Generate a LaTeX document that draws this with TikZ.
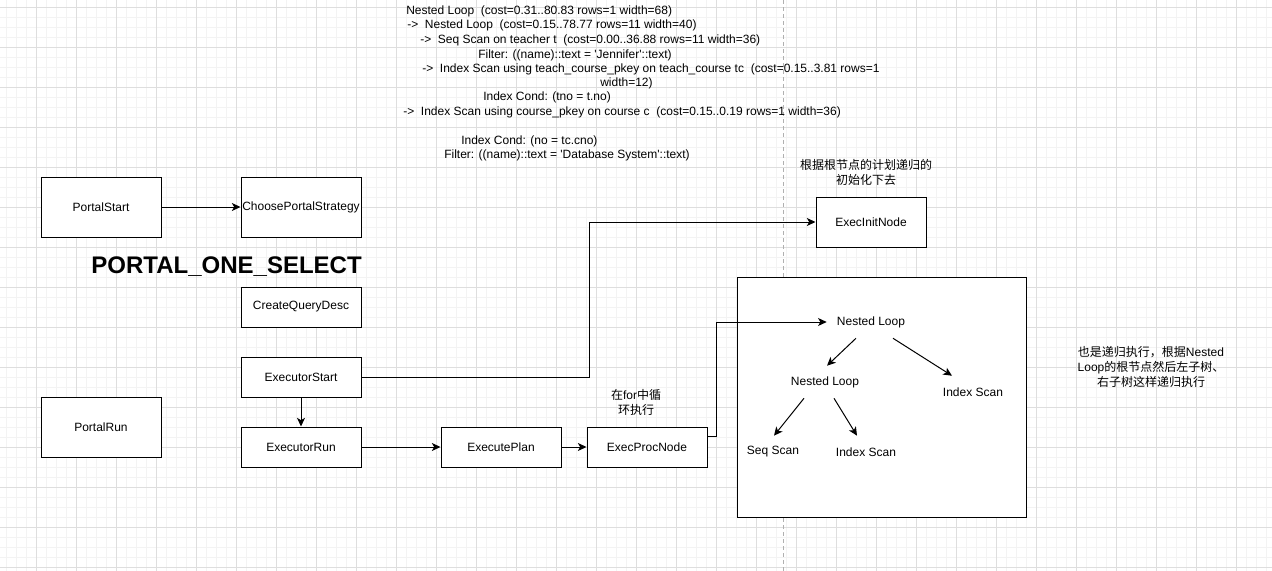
\documentclass[tikz,border=0pt]{standalone}
\usepackage{fontspec}
\setmainfont{Liberation Sans}
\newfontfamily\cjk{Noto Sans CJK SC}
\usetikzlibrary{arrows.meta,calc}
\definecolor{gridmajor}{HTML}{DEDEDE}
\definecolor{gridminor}{HTML}{F3F3F3}
\definecolor{guide}{HTML}{B0B0B0}

\begin{document}
\begin{tikzpicture}[x=0.75pt,y=-0.75pt,
  every node/.style={font=\fontsize{9pt}{10.8pt}\selectfont},
  box/.style={draw,fill=white,line width=0.75pt,minimum width=90pt,minimum height=30pt,inner sep=0pt},
  tallbox/.style={box,minimum height=45pt},
  note/.style={inner sep=0pt,align=center},
  cjknote/.style={note,font=\cjk\fontsize{9pt}{11.25pt}\selectfont},
  planline/.style={anchor=base west,inner sep=0pt},
  treenode/.style={inner sep=0pt,minimum height=24pt},
  arr/.style={line width=0.75pt,-{Stealth[length=6.5pt,width=6pt,inset=1.75pt]}},
  gridminorline/.style={gridminor,line width=0.75pt},
  gridmajorline/.style={gridmajor,line width=0.75pt}]

% canvas and background grid
\useasboundingbox (0,0) rectangle (1272,571);
\fill[white] (0,0) rectangle (1272,571);
\foreach \x in {6,16,...,1270} \draw[gridminorline] (\x,0) -- (\x,571);
\foreach \y in {7,17,...,571} \draw[gridminorline] (0,\y) -- (1272,\y);
\foreach \x in {36,76,...,1270} \draw[gridmajorline] (\x,0) -- (\x,571);
\foreach \y in {7,47,...,571} \draw[gridmajorline] (0,\y) -- (1272,\y);
\draw[guide,line width=0.75pt,dash pattern=on 3pt off 2.25pt] (783,0) -- (783,571);

% query plan text
\node[planline] (p1) at (406,14) {Nested Loop\ \ (cost=0.31..80.83 rows=1 width=68)};
\node[planline] (p2) at (407,28) {->\ \ Nested Loop\ \ (cost=0.15..78.77 rows=11 width=40)};
\node[planline] (p3) at (420,43) {->\ \ Seq Scan on teacher t\ \ (cost=0.00..36.88 rows=11 width=36)};
\node[planline] (p4) at (478,58) {Filter: ((name)::text = \textquotesingle Jennifer\textquotesingle::text)};
\node[planline] (p5) at (422,72) {->\ \ Index Scan using teach\_course\_pkey on teach\_course tc\ \ (cost=0.15..3.81 rows=1};
\node[planline] (p6) at (600,86) {width=12)};
\node[planline] (p7) at (483,100) {Index Cond: (tno = t.no)};
\node[planline] (p8) at (403,115) {->\ \ Index Scan using course\_pkey on course c\ \ (cost=0.15..0.19 rows=1 width=36)};
\node[planline] (p9) at (461,144) {Index Cond: (no = tc.cno)};
\node[planline] (p10) at (444,158) {Filter: ((name)::text = \textquotesingle Database System\textquotesingle::text)};

% portal / executor call chain
\node[tallbox] (ps) at (101,207) {PortalStart};
\node[tallbox] (cps) at (301,207) {ChoosePortalStrategy};
\node[anchor=east,inner sep=0pt,font=\bfseries\fontsize{18pt}{21pt}\selectfont] (pos) at (362,267) {PORTAL\_ONE\_SELECT};
\node[box] (cqd) at (301,307) {CreateQueryDesc};
\node[box] (es) at (301,377) {ExecutorStart};
\node[box] (er) at (301,447) {ExecutorRun};
\node[tallbox] (pr) at (101,427) {PortalRun};
\node[box] (ep) at (501,447) {ExecutePlan};
\node[box] (epn) at (647,447) {ExecProcNode};
\node[draw,fill=white,line width=0.75pt,minimum width=82.5pt,minimum height=37.5pt,inner sep=0pt] (ein) at (871,222) {ExecInitNode};

% plan tree frame
\node[draw,fill=white,line width=0.75pt,minimum width=216.75pt,minimum height=180pt,inner sep=0pt] (frame) at (881.5,397) {};
\node[treenode] (nl1) at (871,322) {Nested Loop};
\node[treenode] (nl2) at (825,382) {Nested Loop};
\node[treenode] (isr) at (973,392) {Index Scan};
\node[treenode] (seq) at (773,452) {Seq Scan};
\node[treenode] (isb) at (866,452) {Index Scan};

% annotations
\node[cjknote] (n1) at (866,172) {根据根节点的计划递归的\\初始化下去};
\node[cjknote] (n2) at (1151,367) {也是递归执行，根据{\rmfamily Nested}\\{\rmfamily Loop}的根节点然后左子树、\\右子树这样递归执行};
\node[cjknote] (n3) at (636,402.5) {在{\rmfamily for}中循\\环执行};

% connectors
\draw[arr] (ps) -- (cps);
\draw[arr] (es) -- (er);
\draw[arr] (er) -- (ep);
\draw[arr] (ep) -- (epn);
\draw[arr] (es.east) -- ++(228,0) |- (ein.west);
\draw[arr] ($(epn.east)+(0,-11)$) -- ++(9,0) |- ($(nl1.west)+(-10,0)$);
\draw[arr] ($(nl1.south)+(-15,0)$) -- ($(nl2.north)+(2,0)$);
\draw[arr] ($(nl1.south)+(22,0)$) -- ($(isr.north)+(-21,0)$);
\draw[arr] ($(nl2.south)+(-21,0)$) -- ($(seq.north)+(1,0)$);
\draw[arr] ($(nl2.south)+(9,0)$) -- ($(isb.north)+(-9,0)$);
\end{tikzpicture}
\end{document}
